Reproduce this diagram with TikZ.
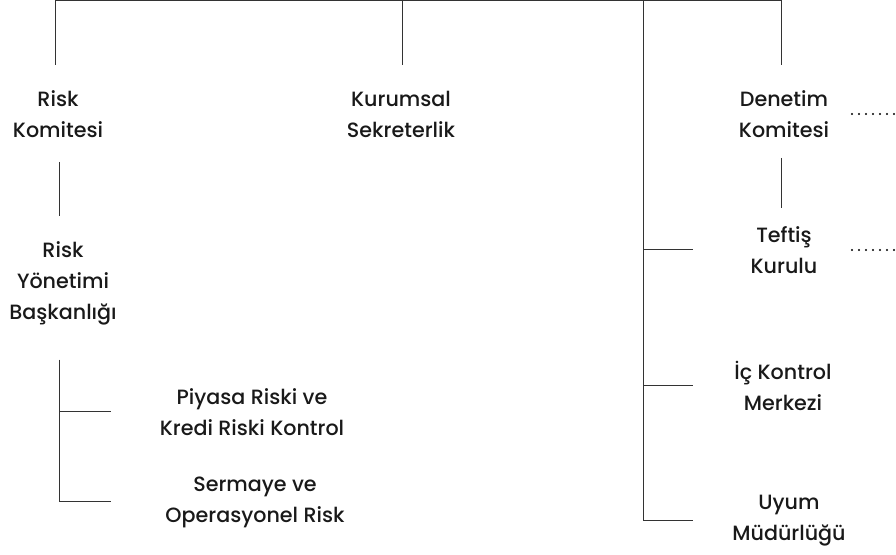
\documentclass[tikz,border=0pt]{standalone}
\usepackage{fontspec}
\setmainfont{Poppins}[UprightFont={* Medium}]
\usepackage{tikz}
\usetikzlibrary{calc}
\tikzstyle{unit} = [align=center, inner sep=0pt, text=black!90, font=\fontsize{15.5}{23.25}\selectfont]
\tikzstyle{link} = [black!80, line width=0.75pt]
\tikzstyle{dots} = [black, line width=1.6pt, line cap=round, dash pattern=on 0pt off 5.25pt, yshift=3pt]

\begin{document}
\begin{tikzpicture}[x=0.75pt,y=-0.75pt]

	\useasboundingbox (0,0) rectangle (896,555);
	% Units
	\node[unit] (rk) at (58,114) {Risk\\Komitesi};
	\node[unit] (ks) at (401,114) {Kurumsal\\Sekreterlik};
	\node[unit] (dk) at (784,114) {Denetim\\Komitesi};
	\node[unit] (ryb) at (63,283) {Risk\\Yönetimi\\Başkanlığı};
	\node[unit] (pk) at (252,412) {Piyasa Riski ve\\Kredi Riski Kontrol};
	\node[unit] (so) at (255,502) {Sermaye ve\\Operasyonel Risk};
	\node[unit] (tk) at (784,250) {Teftiş\\Kurulu};
	\node[unit] (ikm) at (783,386) {İç Kontrol\\Merkezi};
	\node[unit] (um) at (789,521) {Uyum\\Müdürlüğü};

	% Top bus
	\coordinate (t1) at (55,0.5);
	\coordinate (t2) at (402,0.5);
	\coordinate (t3) at (643,0.5);
	\coordinate (t4) at (781,0.5);
	\draw[link] (t1) -- (t4);
	\foreach \c/\n in {t1/rk, t2/ks, t4/dk}
		\draw[link, shorten >=19pt] (\c) -- (\c |- \n.north);

	% Audit side
	\coordinate (rb) at (693,0);
	\draw[link] (t3) -- (t3 |- um);
	\foreach \n in {tk, ikm, um}
		\draw[link] (t3 |- \n) -- (rb |- \n);
	\draw[link, shorten <=15pt, shorten >=14pt] (t4 |- dk.south) -- (t4 |- tk.north);

	% Risk side
	\coordinate (lx) at (59,0);
	\coordinate (lb) at (111,0);
	\draw[link, shorten <=18pt, shorten >=19pt] (lx |- rk.south) -- (lx |- ryb.north);
	\draw[link, shorten <=26pt] (lx |- ryb.south) -- (lx |- so) -- (lb |- so);
	\draw[link] (lx |- pk) -- (lb |- pk);

	% Dotted links off the page
	\coordinate (dl) at (852,0);
	\coordinate (dr) at (896,0);
	\foreach \n in {dk, tk}
		\draw[dots] (dl |- \n) -- (dr |- \n);

\end{tikzpicture}
\end{document}
